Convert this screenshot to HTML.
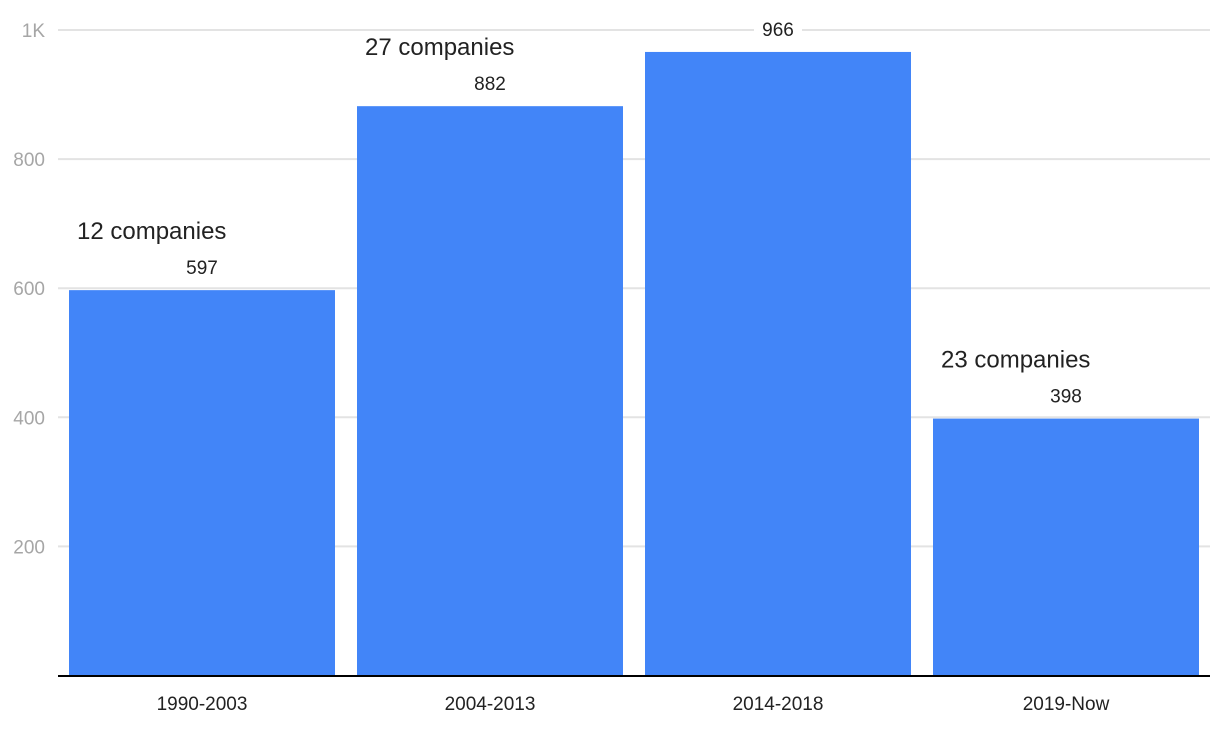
<!DOCTYPE html>
<html><head><meta charset="utf-8"><style>
body{margin:0;background:#fff;font-family:"Liberation Sans",sans-serif}
svg{display:block}
</style></head><body>
<svg id="chart" width="1220" height="734" xmlns="http://www.w3.org/2000/svg"></svg>
<script>
const categories = ["1990-2003","2004-2013","2014-2018","2019-Now"];
const values = [597, 882, 966, 398];
const annotations = ["12 companies","27 companies","","23 companies"];
const tickValues = [200, 400, 600, 800, 1000];
const tickLabels = ["200","400","600","800","1K"];

const svg = document.getElementById('chart');
const NS = "http://www.w3.org/2000/svg";
const x0 = 58, x1 = 1210, y0 = 675.5, yTop = 30;
const yScale = v => y0 - (v/1000)*(y0 - yTop);
const band = (x1 - x0) / categories.length;
const barW = 266;
const xBand = i => x0 + i*band + (band - barW)/2 + 0;
function el(tag, attrs, text){
  const e = document.createElementNS(NS, tag);
  for (const k in attrs) e.setAttribute(k, attrs[k]);
  if (text !== undefined) e.textContent = text;
  svg.appendChild(e);
  return e;
}
tickValues.forEach((v,i)=>{
  const y = yScale(v);
  const g = el('line',{x1:x0,x2:x1,y1:y,y2:y,stroke:'#e3e3e3','stroke-width':2});
  
  
  const t = el('text',{x:45,y:y+7,'text-anchor':'end','font-size':19,fill:'#a6a6a6'},tickLabels[i]);
  
  
});
categories.forEach((c,i)=>{
  const bx = xBand(i), by = yScale(values[i]);
  const r = el('rect',{x:bx,y:by,width:barW,height:y0-by,fill:'#4285f8'});
  
  
  const cx = bx + barW/2;
  const bg = el('rect',{x:cx-24,y:by-36,width:48,height:26,fill:'#fff'});
  
  
  const v = el('text',{x:cx,y:by-16,'text-anchor':'middle','font-size':19,fill:'#222'},String(values[i]));
  
  
  if (annotations[i]) {
    const a = el('text',{x:bx+8,y:by-51,'font-size':24,fill:'#222'},annotations[i]);
    
    
  }
  const xl = el('text',{x:cx,y:710,'text-anchor':'middle','font-size':19,fill:'#222'},c);
  
  
});
const ax = el('line',{x1:x0,x2:x1,y1:676,y2:676,stroke:'#000','stroke-width':2});


</script>
</body></html>
